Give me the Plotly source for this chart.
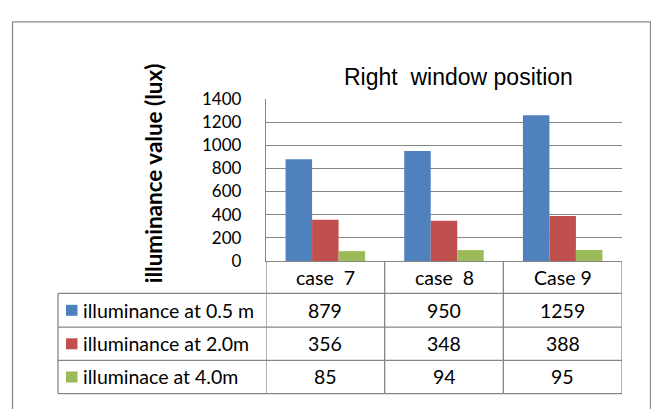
import plotly.graph_objects as go

# ---- data ----
categories = ["case  7", "case  8", "Case 9"]
series_names = ["illuminance at 0.5 m", "illuminance at 2.0m", "illuminace at 4.0m"]
values_05 = [879, 950, 1259]
values_20 = [356, 348, 388]
values_40 = [85, 94, 95]
series_values = [values_05, values_20, values_40]
colors = ["#4F81BD", "#C0504D", "#9BBB59"]
y_ticks = [0, 200, 400, 600, 800, 1000, 1200, 1400]
title_text = "Right  window position"
y_title = "illuminance value (lux)"

W, H = 651, 409
def px(x):
    return x / W
def py(y):
    return 1 - y / H

def disp(s):
    return s.replace("  ", " \u00a0")

FONT = "Lato, 'Open Sans', sans-serif"
GRID = "#868686"

plot_left, plot_right = 266, 622
y_top, y_zero = 92.7, 263.5
row_lines = [263.5, 297.7, 333.3, 368.3, 403.3]
table_left = 58

fig = go.Figure()
for name, vals, col in zip(series_names, series_values, colors):
    fig.add_trace(go.Bar(x=categories, y=vals, name=name,
                         marker=dict(color=col, line=dict(width=0))))

shapes = []
annotations = []

# outer chart border
shapes.append(dict(type="rect", xref="paper", yref="paper",
                   x0=px(12.5), x1=px(650.5), y0=py(425), y1=py(11.5),
                   line=dict(color="#8c8c8c", width=1.3), layer="below"))

# table horizontal lines
for yl in row_lines[1:]:
    shapes.append(dict(type="line", xref="paper", yref="paper",
                       x0=px(table_left), x1=px(plot_right), y0=py(yl), y1=py(yl),
                       line=dict(color=GRID, width=1.3)))
# table vertical lines (category boundaries)
for b in [-0.5, 0.5, 1.5, 2.5]:
    shapes.append(dict(type="line", xref="x", yref="paper",
                       x0=b, x1=b, y0=py(row_lines[0]), y1=py(row_lines[-1]),
                       line=dict(color=GRID, width=1.3)))
shapes.append(dict(type="line", xref="paper", yref="paper",
                   x0=px(table_left), x1=px(table_left), y0=py(row_lines[1]), y1=py(row_lines[-1]),
                   line=dict(color=GRID, width=1.3)))

TFS = 19.5
# header row: categories
hdr_c = (row_lines[0] + row_lines[1]) / 2
for c in categories:
    annotations.append(dict(x=c, xref="x", y=py(hdr_c + 0.5), yref="paper",
                            text=disp(c), showarrow=False, xanchor="center", yanchor="middle",
                            font=dict(family=FONT, size=TFS, color="#000")))

# data rows
for i, (name, vals, col) in enumerate(zip(series_names, series_values, colors)):
    yc = (row_lines[i + 1] + row_lines[i + 2]) / 2
    shapes.append(dict(type="rect", xref="paper", yref="paper",
                       x0=px(66), x1=px(77.5), y0=py(yc + 5.8), y1=py(yc - 5.8),
                       fillcolor=col, line=dict(width=0)))
    annotations.append(dict(x=px(81), xref="paper", y=py(yc), yref="paper",
                            text=name, showarrow=False, xanchor="left", yanchor="middle",
                            font=dict(family=FONT, size=TFS, color="#000")))
    for c, v in zip(categories, vals):
        annotations.append(dict(x=c, xref="x", y=py(yc), yref="paper",
                                text=str(v), showarrow=False, xanchor="center", yanchor="middle",
                                font=dict(family=FONT, size=TFS, color="#000")))

# chart title
annotations.append(dict(x=px(458), xref="paper", y=py(70), yref="paper",
                        text=title_text.replace("  ", " \u00a0"), showarrow=False,
                        xanchor="center", yanchor="middle",
                        font=dict(family="'Liberation Sans', Arial, sans-serif", size=23, color="#000")))
# y axis title
annotations.append(dict(x=px(153), xref="paper", y=py(171), yref="paper",
                        text="<b>" + y_title + "</b>", showarrow=False, textangle=-90,
                        xanchor="center", yanchor="middle",
                        font=dict(family=FONT, size=22.5, color="#000")))

fig.update_layout(
    width=W, height=H,
    margin=dict(l=0, r=0, t=0, b=0),
    paper_bgcolor="white", plot_bgcolor="white",
    barmode="group", bargap=0.33, bargroupgap=0,
    showlegend=False,
    xaxis=dict(domain=[px(plot_left), px(plot_right)], range=[-0.5, 2.5],
               showticklabels=False, showgrid=False, zeroline=False,
               showline=True, linecolor=GRID, linewidth=1.3, ticks=""),
    yaxis=dict(domain=[py(y_zero), py(y_top)], range=[0, 1400],
               tickvals=y_ticks, ticktext=[str(t) for t in y_ticks],
               showgrid=True, gridcolor=GRID, gridwidth=1.3,
               zeroline=False, showline=True, linecolor=GRID, linewidth=1.3,
               ticks="", ticklabelstandoff=20,
               tickfont=dict(family=FONT, size=17, color="#000")),
    shapes=shapes, annotations=annotations,
)

fig.write_html("out.html")
